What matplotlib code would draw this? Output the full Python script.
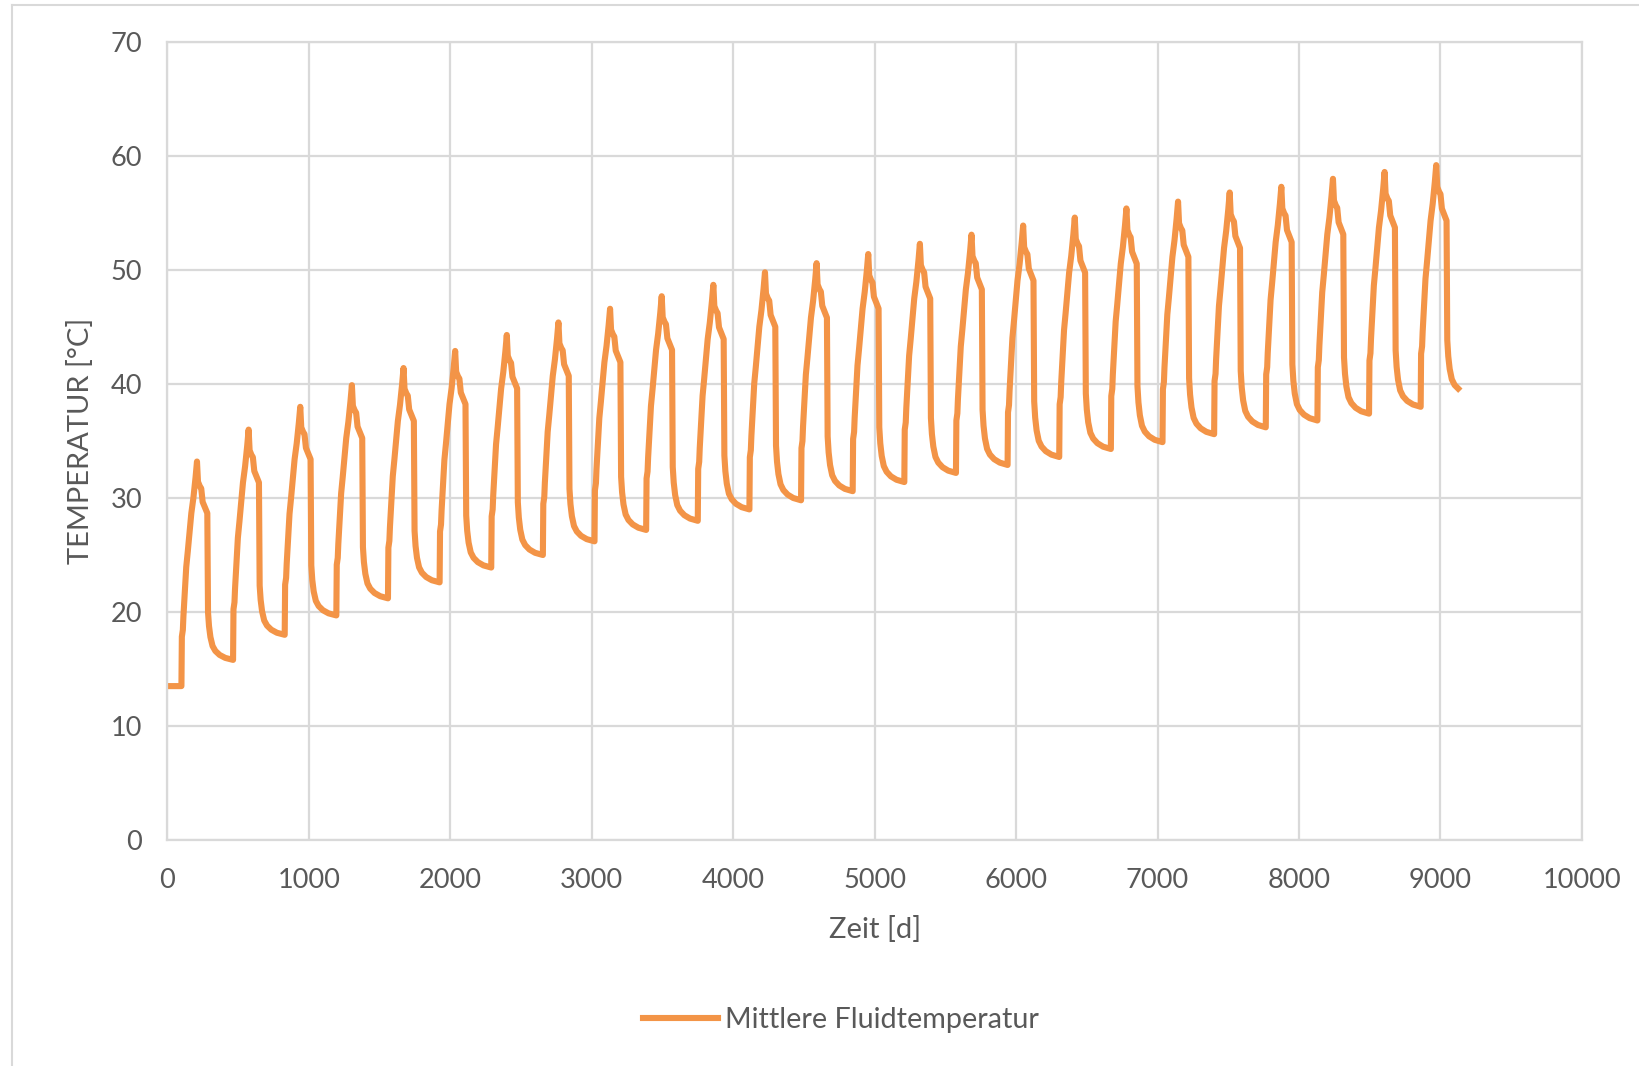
import numpy as np
import matplotlib.pyplot as plt
from matplotlib.lines import Line2D

# -------------------------------------------------
# DATA
# -------------------------------------------------
start_temp = 13.5          # flat start value [°C]
first_rise_day = 100       # day of the first heating rise
period = 365               # days per cycle
end_day = 9125
end_temp = 39.6

# peak of each yearly cycle [°C]
peak_temp = [33.2, 36.0, 38.0, 39.9, 41.4, 42.9, 44.3, 45.4, 46.6, 47.7,
             48.7, 49.8, 50.6, 51.4, 52.3, 53.1, 53.9, 54.6, 55.4, 56.0,
             56.8, 57.3, 58.0, 58.6, 59.2]

# trough before each rise (first one = start value), last = trough after final cycle
trough_temp = [13.5, 15.8, 18.0, 19.7, 21.2, 22.6, 23.9, 25.0, 26.2, 27.2,
               28.0, 29.0, 29.8, 30.6, 31.4, 32.2, 32.9, 33.6, 34.3, 34.9,
               35.6, 36.2, 36.8, 37.4, 38.0, 39.0]

# shape of one cycle: day offset after rise and relative level
rise_offset = [0, 3, 10, 14, 34, 45, 70, 85, 100, 110, 117, 130, 140, 150, 170, 183]
rise_level = [0.0, 0.22, 0.25, 0.31, 0.53, 0.60, 0.77, 0.84, 0.93, 1.0,
              0.91, 0.89, 0.88, 0.82, 0.79, 0.77]
decay_offset = [188, 195, 205, 220, 240, 270, 310]
decay_level = [0.24, 0.17, 0.115, 0.07, 0.045, 0.025, 0.01]

# -------------------------------------------------
# BUILD LINE
# -------------------------------------------------
days = [0]
temps = [start_temp]
for k, peak in enumerate(peak_temp):
    t0 = first_rise_day + k * period
    low, nxt = trough_temp[k], trough_temp[k + 1]
    for off, lv in zip(rise_offset, rise_level):
        days.append(t0 + off)
        temps.append(low + lv * (peak - low))
    for off, lv in zip(decay_offset, decay_level):
        if t0 + off < end_day:
            days.append(t0 + off)
            temps.append(nxt + lv * (peak - nxt))
    if t0 + period < end_day:
        days.append(t0 + period)
        temps.append(nxt)
days.append(end_day)
temps.append(end_temp)

# -------------------------------------------------
# PLOT
# -------------------------------------------------
plt.rcParams['font.family'] = ['Lato', 'DejaVu Sans']
grey = '#595959'
grid_c = '#d9d9d9'

fig = plt.figure(figsize=(16.4, 10.66), dpi=100)
ax = fig.add_axes([0.102, 0.212, 0.8626, 0.7486])

ax.plot(days, temps, color='#F39447', lw=4.4, solid_joinstyle='round',
        label='Mittlere Fluidtemperatur')

ax.set_xlim(0, 10000)
ax.set_ylim(0, 70)
ax.set_xticks(np.arange(0, 10001, 1000))
ax.set_yticks(np.arange(0, 71, 10))
ax.grid(True, color=grid_c, lw=1.6)
ax.set_axisbelow(True)
for s in ax.spines.values():
    s.set_color(grid_c)
    s.set_linewidth(1.6)
ax.tick_params(length=0, labelsize=19.5, labelcolor=grey)
ax.tick_params(axis='x', pad=20)
ax.tick_params(axis='y', pad=18)

ax.set_xlabel('Zeit [d]', fontsize=21, color=grey, labelpad=17)
ax.set_ylabel('TEMPERATUR [°C]', fontsize=21, color=grey, labelpad=12)

leg = fig.legend(loc='center', bbox_to_anchor=(0.513, 0.043), frameon=False,
                 fontsize=20.7, handlelength=2.6, handletextpad=0.25)
for t in leg.get_texts():
    t.set_color(grey)

# outer chart border
fig.add_artist(Line2D([12 / 1640, 12 / 1640], [0, 1 - 5 / 1066], color=grid_c, lw=1.5))
fig.add_artist(Line2D([12 / 1640, 1], [1 - 5 / 1066, 1 - 5 / 1066], color=grid_c, lw=1.5))

fig.savefig('out.png', dpi=100, facecolor='white')
